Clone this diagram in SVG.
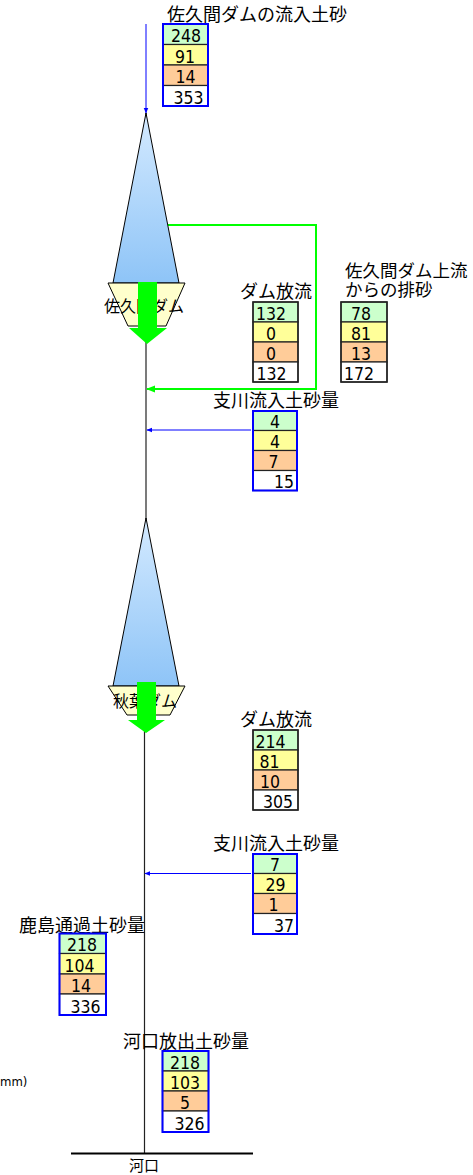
<svg xmlns="http://www.w3.org/2000/svg" width="473" height="1175" viewBox="0 0 473 1175">
<style>
.lbl{font-family:"Noto Sans CJK JP","Noto Sans CJK SC",sans-serif;font-size:18px;fill:#000}
.lbl2{font-family:"Noto Sans CJK JP","Noto Sans CJK SC",sans-serif;font-size:17.5px;fill:#000}
.dl{font-family:"Noto Sans CJK JP","Noto Sans CJK SC",sans-serif;font-size:16px;fill:#000}
.n{font-family:"Liberation Sans Narrow","DejaVu Sans Condensed","Liberation Sans",sans-serif;font-stretch:condensed;font-size:17.5px;fill:#000}
.c{text-anchor:middle}
.r{text-anchor:end}
.g{fill:#ccffcc}.y{fill:#ffff99}.o{fill:#ffcc99}.w{fill:#ffffff}
.row{stroke:#222;stroke-width:1.2}
.bb{fill:none;stroke:#0000ff;stroke-width:2}
.kb{fill:none;stroke:#222;stroke-width:1.5}
.tri{fill:url(#tg);stroke:#000;stroke-width:1}
.trap{fill:#ffffcc;stroke:#000;stroke-width:1}
.big{fill:#00ff00}
</style>
<defs>
<linearGradient id="tg" x1="0" y1="0" x2="0" y2="1">
<stop offset="0" stop-color="#d4eaff"/>
<stop offset="1" stop-color="#8ec4f7"/>
</linearGradient>
<marker id="ab" viewBox="0 0 10 10" refX="9" refY="5" markerWidth="6" markerHeight="6" orient="auto" markerUnits="userSpaceOnUse">
<path d="M0,1 L10,5 L0,9 z" fill="#0000ff"/>
</marker>
<marker id="ag" viewBox="0 0 10 10" refX="9" refY="5" markerWidth="9" markerHeight="9" orient="auto" markerUnits="userSpaceOnUse">
<path d="M0,1 L10,5 L0,9 z" fill="#00ff00"/>
</marker>
</defs>
<rect width="473" height="1175" fill="#ffffff"/>

<g id="connectors">
<line x1="146" y1="113" x2="146" y2="700" stroke="#222" stroke-width="1.2"/>
<line x1="144.5" y1="700" x2="144.5" y2="1153" stroke="#222" stroke-width="1.2"/>
<line x1="146" y1="24" x2="146" y2="113" stroke="#0000ff" stroke-width="1" marker-end="url(#ab)"/>
<polyline points="168,225 316,225 316,389 147,389" fill="none" stroke="#00ff00" stroke-width="2" marker-end="url(#ag)"/>
<line x1="251" y1="430" x2="147" y2="430" stroke="#0000ff" stroke-width="1" marker-end="url(#ab)"/>
<line x1="251" y1="873.5" x2="145" y2="873.5" stroke="#0000ff" stroke-width="1" marker-end="url(#ab)"/>
<line x1="71" y1="1153.5" x2="253" y2="1153.5" stroke="#000" stroke-width="2"/>
</g>

<g id="dam-sakuma">
<polygon class="tri" points="146,113 179,283 113,283"/>
<polygon class="trap" points="108,283 185,283 166,326 128,326"/>
<text class="dl" x="104" y="312">佐久間ダム</text>
<polygon class="big" points="138,282 157,282 157,328 167,328 147,344 129,328 138,328"/>
</g>

<g id="dam-akiba">
<polygon class="tri" points="146,518 179,686 113,686"/>
<polygon class="trap" points="108,686 185,686 170,715 127,715"/>
<text class="dl" x="113" y="707">秋葉ダム</text>
<polygon class="big" points="137,682 156,682 156,720 165,720 146,733 128,720 137,720"/>
</g>

<g id="inflow-sakuma">
<text class="lbl" x="167" y="21">佐久間ダムの流入土砂</text>
<rect class="g row" x="163" y="24" width="45" height="20.5"/>
<rect class="y row" x="163" y="44.5" width="45" height="20.5"/>
<rect class="o row" x="163" y="65" width="45" height="20.5"/>
<rect class="w row" x="163" y="85.5" width="45" height="20.5"/>
<rect class="bb" x="163" y="24" width="45" height="82"/>
<text class="n c" x="186" y="42">248</text>
<text class="n c" x="185" y="62.5">91</text>
<text class="n c" x="185.5" y="83">14</text>
<text class="n r" x="203.5" y="103.5">353</text>
</g>

<g id="release-sakuma">
<text class="lbl" x="240" y="298">ダム放流</text>
<rect class="g row" x="253" y="302" width="45" height="20"/>
<rect class="y row" x="253" y="322" width="45" height="20"/>
<rect class="o row" x="253" y="342" width="45" height="20"/>
<rect class="w row" x="253" y="362" width="45" height="20"/>
<rect class="kb" x="253" y="302" width="45" height="80"/>
<text class="n c" x="271" y="319.5">132</text>
<text class="n c" x="271" y="339.5">0</text>
<text class="n c" x="271" y="359.5">0</text>
<text class="n c" x="271.5" y="379.5">132</text>
</g>

<g id="upstream-flush">
<text class="lbl2"><tspan x="345" y="277">佐久間ダム上流</tspan><tspan x="345" y="296">からの排砂</tspan></text>
<rect class="g row" x="341" y="302" width="46" height="20"/>
<rect class="y row" x="341" y="322" width="46" height="20"/>
<rect class="o row" x="341" y="342" width="46" height="20"/>
<rect class="w row" x="341" y="362" width="46" height="20"/>
<rect class="kb" x="341" y="302" width="46" height="80"/>
<text class="n c" x="361" y="319.5">78</text>
<text class="n c" x="361" y="339.5">81</text>
<text class="n c" x="361" y="359.5">13</text>
<text class="n c" x="359" y="379.5">172</text>
</g>

<g id="tributary-1">
<text class="lbl" x="213" y="407">支川流入土砂量</text>
<rect class="g row" x="253" y="411" width="44" height="19.5"/>
<rect class="y row" x="253" y="430.5" width="44" height="20"/>
<rect class="o row" x="253" y="450.5" width="44" height="20"/>
<rect class="w row" x="253" y="470.5" width="44" height="20"/>
<rect class="bb" x="253" y="411" width="44" height="79.5"/>
<text class="n c" x="275" y="428">4</text>
<text class="n c" x="275" y="448">4</text>
<text class="n c" x="273.5" y="468">7</text>
<text class="n r" x="294" y="488">15</text>
</g>

<g id="release-akiba">
<text class="lbl" x="240" y="726">ダム放流</text>
<rect class="g row" x="253" y="730" width="45" height="20"/>
<rect class="y row" x="253" y="750" width="45" height="20"/>
<rect class="o row" x="253" y="770" width="45" height="20"/>
<rect class="w row" x="253" y="790" width="45" height="20"/>
<rect class="kb" x="253" y="730" width="45" height="80"/>
<text class="n c" x="270.5" y="747.5">214</text>
<text class="n c" x="269.5" y="767.5">81</text>
<text class="n c" x="270" y="787.5">10</text>
<text class="n r" x="293" y="807.5">305</text>
</g>

<g id="tributary-2">
<text class="lbl" x="213" y="850">支川流入土砂量</text>
<rect class="g row" x="253" y="854" width="44" height="19.5"/>
<rect class="y row" x="253" y="873.5" width="44" height="20"/>
<rect class="o row" x="253" y="893.5" width="44" height="20"/>
<rect class="w row" x="253" y="913.5" width="44" height="20.5"/>
<rect class="bb" x="253" y="854" width="44" height="80"/>
<text class="n c" x="275" y="871">7</text>
<text class="n c" x="275.5" y="891">29</text>
<text class="n c" x="273.5" y="911">1</text>
<text class="n r" x="294" y="931.5">37</text>
</g>

<g id="kashima">
<text class="lbl" x="19" y="932">鹿島通過土砂量</text>
<rect class="g row" x="59.5" y="933.5" width="46.5" height="20"/>
<rect class="y row" x="59.5" y="953.5" width="46.5" height="20.5"/>
<rect class="o row" x="59.5" y="974" width="46.5" height="20"/>
<rect class="w row" x="59.5" y="994" width="46.5" height="21"/>
<rect class="bb" x="59.5" y="933.5" width="46.5" height="81.5"/>
<text class="n c" x="82" y="951">218</text>
<text class="n c" x="79.5" y="971.5">104</text>
<text class="n c" x="81" y="992">14</text>
<text class="n r" x="100.5" y="1012.5">336</text>
</g>

<g id="mouth-out">
<text class="lbl" x="123" y="1048">河口放出土砂量</text>
<rect class="g row" x="162.5" y="1051" width="46" height="20"/>
<rect class="y row" x="162.5" y="1071" width="46" height="20"/>
<rect class="o row" x="162.5" y="1091" width="46" height="20"/>
<rect class="w row" x="162.5" y="1111" width="46" height="21"/>
<rect class="bb" x="162.5" y="1051" width="46" height="81"/>
<text class="n c" x="185" y="1068.5">218</text>
<text class="n c" x="185" y="1088.5">103</text>
<text class="n c" x="185" y="1108.5">5</text>
<text class="n r" x="204.5" y="1129.5">326</text>
</g>

<g id="mouth">
<text class="dl" x="129" y="1171" style="font-size:15px">河口</text>
</g>

<g id="unit-note">
<text x="0" y="1086" style="font-family:'DejaVu Sans Condensed','DejaVu Sans',sans-serif;font-size:13px">mm)</text>
</g>
</svg>
